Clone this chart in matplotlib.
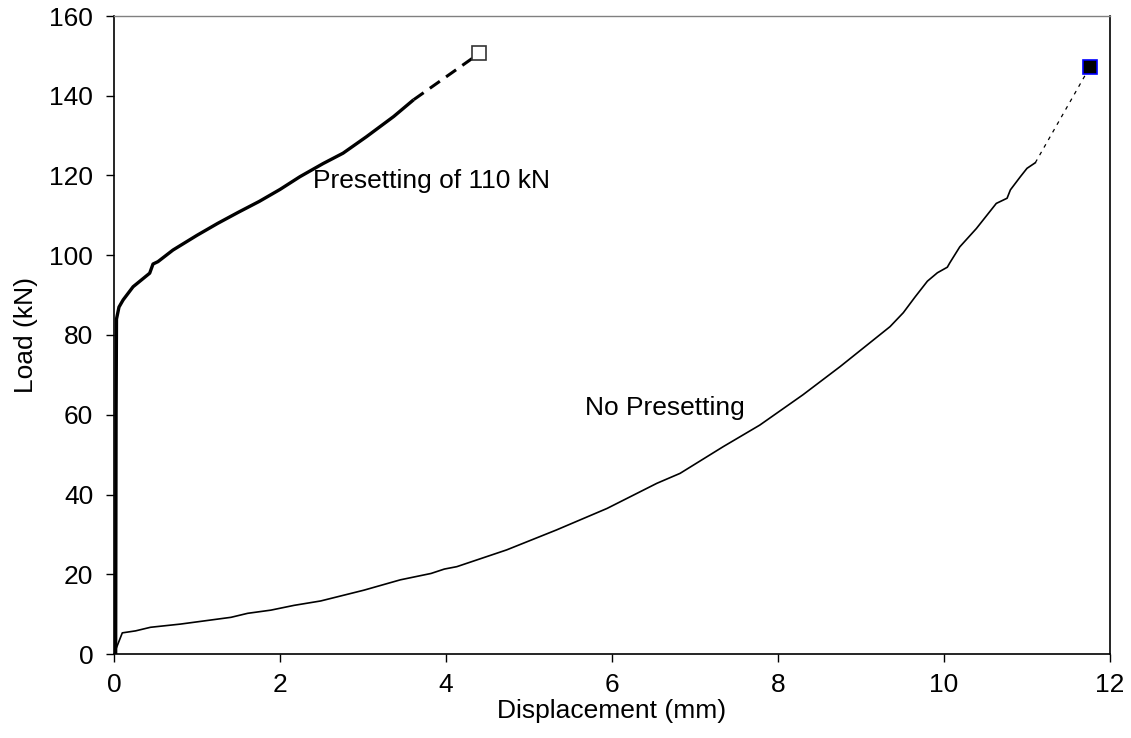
import matplotlib
matplotlib.use("Agg")
import matplotlib.pyplot as plt

# Presetting of 110 kN (measured part)
pre_x = [0.02, 0.025, 0.03, 0.06, 0.11, 0.23, 0.43, 0.47, 0.53, 0.71, 1.0, 1.25, 1.5, 1.75, 2.0, 2.24, 2.52, 2.76, 3.04, 3.37, 3.61]
pre_y = [0.0, 60.0, 84.0, 87.0, 88.8, 92.1, 95.5, 97.8, 98.4, 101.3, 105.0, 108.0, 110.8, 113.5, 116.5, 119.7, 123.0, 125.6, 129.7, 134.8, 139.0]
# Presetting extrapolated to failure
pre_ext_x = [3.61, 4.40]
pre_ext_y = [139.0, 150.6]

# No presetting (measured part)
nop_x = [0.0, 0.10, 0.26, 0.44, 0.80, 1.41, 1.61, 1.89, 2.17, 2.49, 3.01, 3.45, 3.82, 3.98, 4.13, 4.73, 5.33, 5.94, 6.54, 6.82, 7.34, 7.78, 8.30, 8.75, 9.35, 9.51, 9.65, 9.80, 9.92, 10.04, 10.07, 10.19, 10.39, 10.63, 10.76, 10.80, 10.92, 11.00, 11.10]
nop_y = [0.0, 5.3, 5.8, 6.7, 7.5, 9.2, 10.2, 11.0, 12.2, 13.3, 16.0, 18.6, 20.2, 21.3, 21.9, 26.1, 31.1, 36.5, 42.8, 45.3, 52.0, 57.4, 65.0, 72.1, 82.1, 85.6, 89.5, 93.5, 95.6, 97.0, 98.1, 102.1, 106.7, 113.0, 114.3, 116.4, 119.7, 121.8, 123.2]
nop_ext_x = [11.10, 11.76]
nop_ext_y = [123.2, 147.3]

xticks = [0, 2, 4, 6, 8, 10, 12]
yticks = [0, 20, 40, 60, 80, 100, 120, 140, 160]

plt.rcParams['font.family'] = ['Liberation Sans', 'DejaVu Sans']
FS = 19

fig = plt.figure(figsize=(11.31, 7.38), dpi=100)
ax = fig.add_axes([114/1131, 1-654/738, (1110-114)/1131, (654-16)/738])

ax.plot(pre_x, pre_y, color='black', lw=2.4, solid_capstyle='butt')
ax.plot(pre_ext_x, pre_ext_y, color='black', lw=2.2, dashes=(4, 2.5))
ax.plot([pre_ext_x[-1]], [pre_ext_y[-1]], marker='s', ms=9.5, mfc='white', mec='#333333', mew=1.2, ls='none')

ax.plot(nop_x, nop_y, color='black', lw=1.2)
ax.plot(nop_ext_x, nop_ext_y, color='black', lw=0.9, dashes=(3, 4))
ax.plot([nop_ext_x[-1]], [nop_ext_y[-1]], marker='s', ms=9.5, mfc='black', mec='#0000ff', mew=1.2, ls='none')

ax.text(2.4, 118.6, 'Presetting of 110 kN', fontsize=FS, va='center', ha='left')
ax.text(5.67, 61.7, 'No Presetting', fontsize=FS, va='center', ha='left')

ax.set_xlim(0, 12)
ax.set_ylim(0, 160)
ax.set_xticks(xticks)
ax.set_yticks(yticks)
ax.tick_params(direction='out', length=6, width=1.0, labelsize=FS, color='black')
ax.tick_params(axis='x', pad=8)
ax.tick_params(axis='y', pad=9)
ax.set_xlabel('Displacement (mm)', fontsize=FS, labelpad=1)
ax.set_ylabel('Load (kN)', fontsize=FS, labelpad=8)

for s in ['left', 'bottom', 'right']:
    ax.spines[s].set_color('black')
    ax.spines[s].set_linewidth(1.2)
ax.spines['top'].set_color('#808080')
ax.spines['top'].set_linewidth(1.0)

fig.savefig('out.png', dpi=100)
